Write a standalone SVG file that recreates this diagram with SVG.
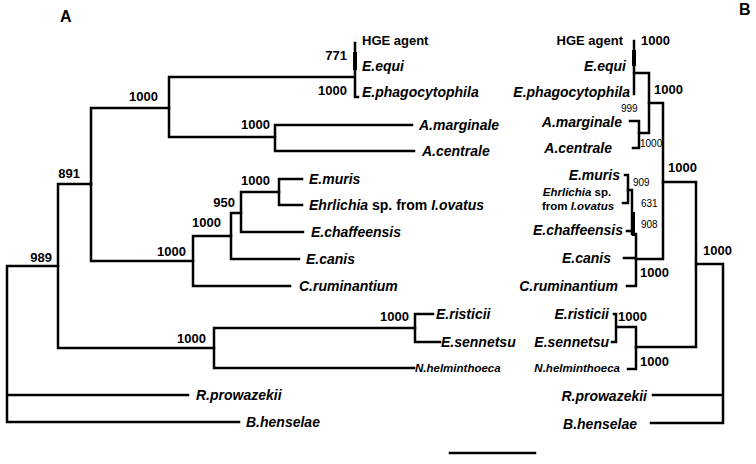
<svg xmlns="http://www.w3.org/2000/svg" width="756" height="464" viewBox="0 0 756 464">
<style>
.ln{fill:none;stroke:#000;stroke-width:2.5;stroke-linecap:square}
.th{fill:none;stroke:#000;stroke-width:4}
.th3{fill:none;stroke:#000;stroke-width:3}
text{font-family:"Liberation Sans",Arial,sans-serif;font-weight:bold;fill:#000}
.sp{font-size:14px;font-style:italic}
.hg{font-size:13px}
.bs{font-size:13px}
.sm{font-size:10px;font-weight:normal}
.nh{font-size:11.5px;font-style:italic}
.pl{font-size:16px}
.e{text-anchor:end}
</style>
<rect width="756" height="464" fill="#fff"/>
<g id="panel-labels">
<text class="pl" x="60" y="22">A</text>
<text class="pl" x="739" y="15">B</text>
</g>
<g id="connectors">
<!-- Tree A -->
<path class="ln" d="M7,266 V422 M7,266 H58 M7,395 H188 M7,422 H239"/>
<path class="ln" d="M58,184 V348 M58,184 H91 M58,348 H214"/>
<path class="ln" d="M91,108 V261 M91,108 H169 M91,261 H193"/>
<path class="ln" d="M169,77 V137 M169,77 H353 M169,137 H275"/>
<path class="ln" d="M355,43 V97 H358"/>
<path class="th" d="M355,52 V70"/>
<path class="ln" d="M275,125 V151 M275,125 H412 M275,151 H414"/>
<path class="ln" d="M193,236 V286 M193,236 H231 M193,286 H290"/>
<path class="ln" d="M231,213 V259 M231,213 H241 M231,259 H299"/>
<path class="ln" d="M241,192 V232 M241,192 H279 M241,232 H303"/>
<path class="ln" d="M279,179 V205 M279,179 H302 M279,205 H302"/>
<path class="ln" d="M214,328 V368 M214,328 H415 M214,368 H414"/>
<path class="ln" d="M415,314 V342 M415,314 H433 M415,342 H440"/>
<!-- Tree B -->
<path class="ln" d="M634,41 V94"/>
<path class="th" d="M634,50 V66"/>
<path class="ln" d="M634,73 H649 V133 M639,133 H649"/>
<path class="ln" d="M630,121 H639 V148 H633"/>
<path class="ln" d="M649,103 H663 V259 M636,259 H663"/>
<path class="ln" d="M663,182 H696 V347 M636,347 H696"/>
<path class="ln" d="M696,264 H723 V423 M653,395 H723 M651,423 H723"/>
<path class="ln" d="M625,175 H628 V203 H623"/>
<path class="ln" d="M628,190 H632 V232 M627,231 H632"/>
<path class="th3" d="M633.5,212 V236"/>
<path class="ln" d="M632,234 H636 V286 M624,258 H636 M627,286 H636"/>
<path class="ln" d="M614,314 H616 V342 H612 M616,327 H636 V369 H628"/>
<!-- scale bar -->
<path class="ln" d="M450,453 H535"/>
</g>
<g id="bootstrap-A">
<text class="bs e" x="347" y="60">771</text>
<text class="bs e" x="347" y="95">1000</text>
<text class="bs e" x="158" y="101">1000</text>
<text class="bs e" x="270" y="129">1000</text>
<text class="bs e" x="80" y="178">891</text>
<text class="bs e" x="52" y="262">989</text>
<text class="bs e" x="186" y="256">1000</text>
<text class="bs e" x="221" y="227">1000</text>
<text class="bs e" x="235" y="207">950</text>
<text class="bs e" x="270" y="185">1000</text>
<text class="bs e" x="206" y="343">1000</text>
<text class="bs e" x="409" y="321">1000</text>
</g>
<g id="bootstrap-B">
<text class="bs" x="641" y="45">1000</text>
<text class="bs" x="654" y="94">1000</text>
<text class="sm" x="621" y="112">999</text>
<text class="sm" x="640" y="147">1000</text>
<text class="sm" x="633" y="186">909</text>
<text class="sm" x="641" y="207">631</text>
<text class="sm" x="641" y="228">908</text>
<text class="bs" x="640" y="277">1000</text>
<text class="bs" x="668" y="172">1000</text>
<text class="bs" x="703" y="255">1000</text>
<text class="bs" x="618" y="321">1000</text>
<text class="bs" x="640" y="366">1000</text>
</g>
<g id="leaves-A">
<g id="a-hge"><text class="hg" x="362" y="45">HGE agent</text></g>
<g id="a-equi"><text class="sp" x="362" y="71">E.equi</text></g>
<g id="a-phago"><text class="sp" x="362" y="97">E.phagocytophila</text></g>
<g id="a-marg"><text class="sp" x="419" y="130">A.marginale</text></g>
<g id="a-cent"><text class="sp" x="422" y="156">A.centrale</text></g>
<g id="a-muris"><text class="sp" x="309" y="184">E.muris</text></g>
<g id="a-ehr"><text x="309" y="210" style="font-size:14px"><tspan font-style="italic">Ehrlichia</tspan> sp. from <tspan font-style="italic">I.ovatus</tspan></text></g>
<g id="a-chaf"><text class="sp" x="311" y="237">E.chaffeensis</text></g>
<g id="a-canis"><text class="sp" x="306" y="264">E.canis</text></g>
<g id="a-crum"><text class="sp" x="299" y="291">C.ruminantium</text></g>
<g id="a-rist"><text class="sp" x="436" y="319">E.risticii</text></g>
<g id="a-senn"><text class="sp" x="441" y="347">E.sennetsu</text></g>
<g id="a-nhel"><text class="nh" x="415" y="372">N.helminthoeca</text></g>
<g id="a-rpro"><text class="sp" x="196" y="400">R.prowazekii</text></g>
<g id="a-bhen"><text class="sp" x="246" y="427">B.henselae</text></g>
</g>
<g id="leaves-B">
<g id="b-hge"><text class="hg e" x="623" y="45">HGE agent</text></g>
<g id="b-equi"><text class="sp e" x="626" y="71">E.equi</text></g>
<g id="b-phago"><text class="sp e" x="630" y="97">E.phagocytophila</text></g>
<g id="b-marg"><text class="sp e" x="622" y="127">A.marginale</text></g>
<g id="b-cent"><text class="sp e" x="612" y="153">A.centrale</text></g>
<g id="b-muris"><text class="sp e" x="620" y="180">E.muris</text></g>
<g id="b-ehr"><text x="577" y="196" style="font-size:11.5px;text-anchor:middle"><tspan font-style="italic">Ehrlichia</tspan> sp.</text><text x="578" y="210" style="font-size:11.5px;text-anchor:middle">from <tspan font-style="italic">I.ovatus</tspan></text></g>
<g id="b-chaf"><text class="sp e" x="623" y="235">E.chaffeensis</text></g>
<g id="b-canis"><text class="sp e" x="611" y="263">E.canis</text></g>
<g id="b-crum"><text class="sp e" x="618" y="291">C.ruminantium</text></g>
<g id="b-rist"><text class="sp e" x="609" y="319">E.risticii</text></g>
<g id="b-senn"><text class="sp e" x="609" y="347">E.sennetsu</text></g>
<g id="b-nhel"><text class="nh e" x="620" y="372">N.helminthoeca</text></g>
<g id="b-rpro"><text class="sp e" x="647" y="401">R.prowazekii</text></g>
<g id="b-bhen"><text class="sp e" x="637" y="429">B.henselae</text></g>
</g>
</svg>
